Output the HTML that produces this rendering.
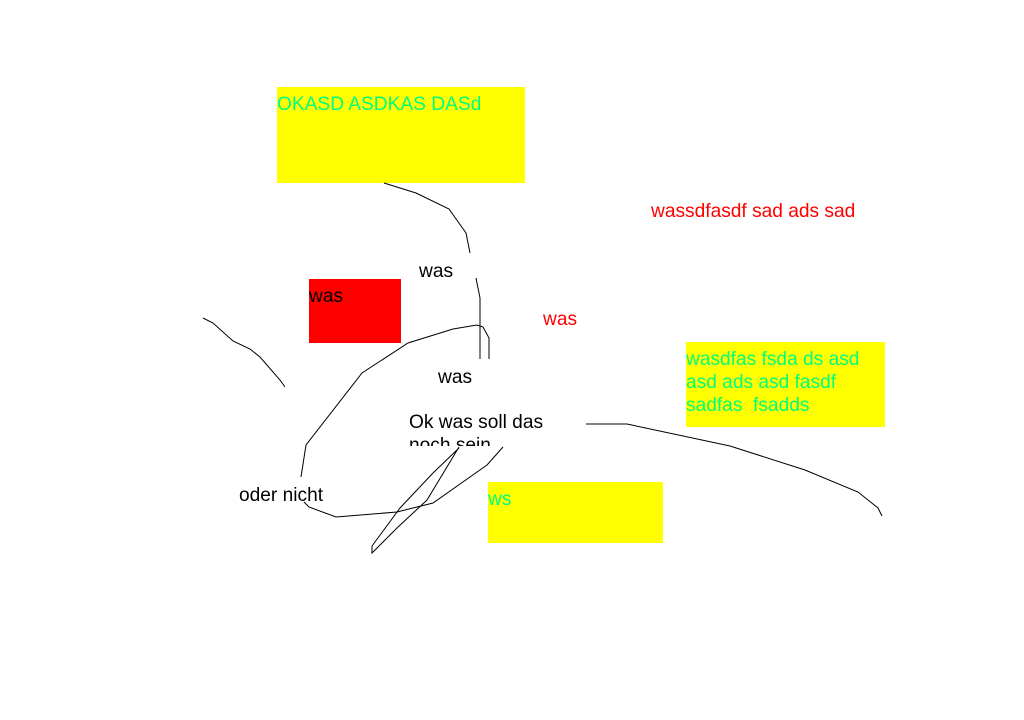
<!DOCTYPE html>
<html><head><meta charset="utf-8"><style>
html,body{margin:0;padding:0;background:#fff;width:1024px;height:720px;overflow:hidden;position:relative;font-family:"Liberation Sans",sans-serif}
.a{position:absolute;font-size:19.15px;line-height:23px;white-space:nowrap}
.box{position:absolute}
</style></head><body>
<div class="box" style="left:277px;top:87px;width:248px;height:96px;background:#ff0"></div>
<div class="a" style="left:277px;top:93px;color:#00ff7f">OKASD ASDKAS DASd</div>
<div class="box" style="left:309px;top:279px;width:92px;height:64px;background:#f00"></div>
<div class="a" style="left:309px;top:285px;color:#000">was</div>
<div class="a" style="left:419px;top:260px;color:#000">was</div>
<div class="a" style="left:543px;top:308px;color:#f00">was</div>
<div class="a" style="left:438px;top:366px;color:#000">was</div>
<div class="a" style="left:651px;top:200px;color:#f00">wassdfasdf sad ads sad</div>
<div class="box" style="left:686px;top:342px;width:199px;height:85px;background:#ff0"></div>
<div class="a" style="left:686px;top:348px;color:#00ff7f;white-space:pre">wasdfas fsda ds asd
asd ads asd fasdf
sadfas  fsadds</div>
<div class="a" style="left:409px;top:411px;color:#000;height:35px;overflow:hidden">Ok was soll das<br>noch sein</div>
<div class="a" style="left:239px;top:484px;color:#000">oder nicht</div>
<div class="box" style="left:488px;top:482px;width:175px;height:61px;background:#ff0"></div>
<div class="a" style="left:488px;top:488px;color:#00ff7f">ws</div>
<svg width="1024" height="720" style="position:absolute;left:0;top:0" fill="none" stroke="#000" stroke-width="1">
<polyline points="384,183 416,193 449,209 466,233 470,253"/>
<polyline points="476,278 480,298 480,359"/>
<polyline points="489,359 489,338 483,327 477,325 453,329 408,343 362,373 306,445 301,477"/>
<polyline points="203,318 213,323 233,341 250,349 260,357 280,380 285,387"/>
<polyline points="304,502 309,507 336,517 397,512 433,503 487,465 503,447"/>
<polyline points="459,447 427,500 397,528 372,553 372,546 400,508 433,473 459,448"/>
<polyline points="586,424 627,424 730,446 805,470 858,492 878,508 882,516"/>
</svg>
</body></html>
